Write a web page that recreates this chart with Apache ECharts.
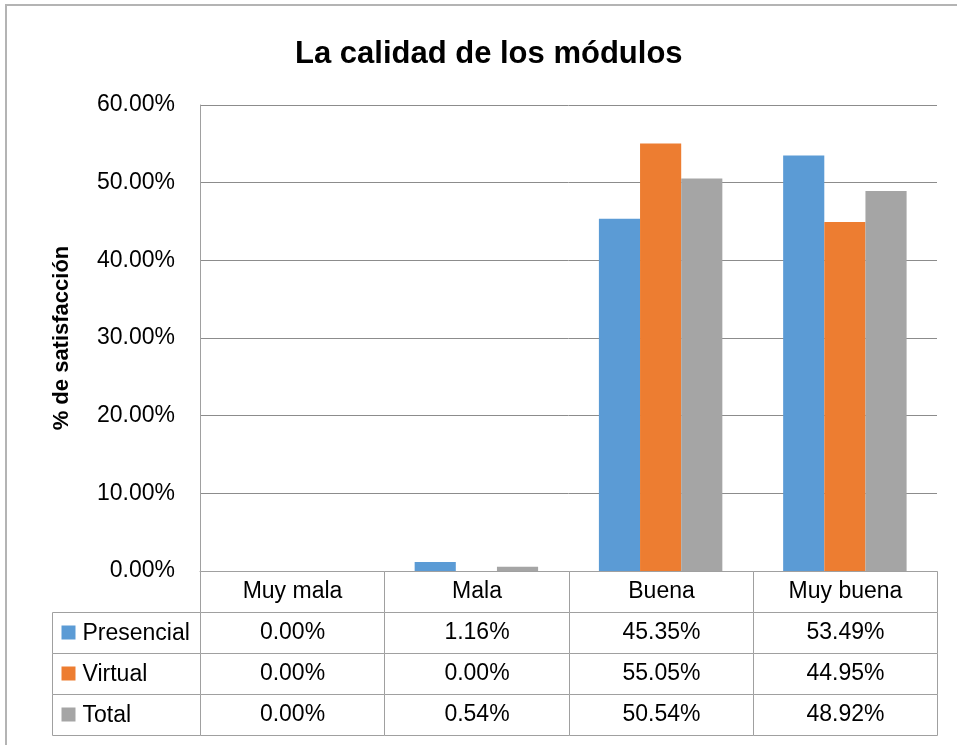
<!DOCTYPE html>
<html>
<head>
<meta charset="utf-8">
<script src="https://cdn.jsdelivr.net/npm/echarts@6/dist/echarts.min.js"></script>
<style>
  html, body { margin: 0; padding: 0; background: #fff; }
  #chart { width: 957px; height: 745px; }
</style>
</head>
<body>
<div id="chart"></div>
<script>
const categories = ['Muy mala', 'Mala', 'Buena', 'Muy buena']
const seriesNames = ['Presencial', 'Virtual', 'Total']
const presencial = [0, 0.0116, 0.4535, 0.5349]
const virtual = [0, 0, 0.5505, 0.4495]
const total = [0, 0.0054, 0.5054, 0.4892]
const colors = ['#5b9bd5', '#ed7d31', '#a5a5a5']

const FONT = '"Liberation Sans", Arial, sans-serif'
const lineColor = '#a0a0a0'
const pct = v => (v * 100).toFixed(2) + '%'

const values = [presencial, virtual, total]

// table cells: row 0 = header, rows 1..3 = series
const tableCells = []
categories.forEach((c, i) => tableCells.push({ value: [i, 0], text: c }))
values.forEach((arr, r) => arr.forEach((v, i) => tableCells.push({ value: [i, r + 1], text: pct(v) })))

const rowHeads = seriesNames.map((n, r) => ({ value: [0, r], text: n, color: colors[r] }))

const crisp = v => Math.round(v) + 0.5

const renderCell = (params, api) => {
  const c = api.coord([api.value(0), api.value(1)])
  const s = api.size([1, 1])
  const x0 = crisp(c[0] - s[0] / 2), y0 = crisp(c[1] - s[1] / 2)
  const x1 = crisp(c[0] + s[0] / 2), y1 = crisp(c[1] + s[1] / 2)
  return {
    type: 'rect',
    shape: { x: x0, y: y0, width: x1 - x0, height: y1 - y0 },
    style: { fill: '#fff', stroke: lineColor, lineWidth: 1 },
    textContent: { style: { text: tableCells[params.dataIndex].text, font: '23px ' + FONT, fill: '#000' } },
    textConfig: { position: 'inside' }
  }
}

const renderHead = (params, api) => {
  const c = api.coord([api.value(0), api.value(1)])
  const s = api.size([1, 1])
  const x0 = crisp(c[0] - s[0] / 2), y0 = crisp(c[1] - s[1] / 2)
  const x1 = crisp(c[0] + s[0] / 2), y1 = crisp(c[1] + s[1] / 2)
  const item = rowHeads[params.dataIndex]
  return {
    type: 'group',
    children: [
      { type: 'rect', shape: { x: x0, y: y0, width: x1 - x0, height: y1 - y0 }, style: { fill: '#fff', stroke: lineColor, lineWidth: 1 } },
      { type: 'rect', shape: { x: x0 + 9, y: c[1] - 7, width: 14, height: 14 }, style: { fill: item.color } },
      { type: 'text', style: { text: item.text, x: x0 + 30, y: c[1] + 1, font: '23px ' + FONT, fill: '#000', verticalAlign: 'middle', align: 'left' } }
    ]
  }
}

const chart = echarts.init(document.getElementById('chart'))

chart.setOption({
  animation: false,
  title: {
    text: 'La calidad de los módulos',
    left: 290,
    top: 34,
    textStyle: { fontFamily: FONT, fontSize: 31, fontWeight: 'bold', color: '#000' }
  },
  graphic: [{
    type: 'rect',
    shape: { x: 6, y: 5, width: 1000, height: 800 },
    style: { fill: 'none', stroke: '#b4b4b4', lineWidth: 2 },
    silent: true
  }],
  grid: [
    { left: 200, top: 105, width: 737, height: 466 },
    { left: 200, top: 571, width: 737, height: 164 },
    { left: 52, top: 612, width: 148, height: 123 }
  ],
  xAxis: [
    {
      gridIndex: 0, type: 'category', data: categories,
      axisLine: { lineStyle: { color: lineColor } },
      axisTick: { show: false }, axisLabel: { show: false }
    },
    { gridIndex: 1, type: 'category', data: categories, show: false },
    { gridIndex: 2, type: 'category', data: ['names'], show: false }
  ],
  yAxis: [
    {
      gridIndex: 0, type: 'value', min: 0, max: 0.6, interval: 0.1,
      name: '% de satisfacción', nameLocation: 'middle', nameGap: 127,
      nameTextStyle: { fontFamily: FONT, fontSize: 22, fontWeight: 'bold', color: '#000' },
      axisLine: { show: true, lineStyle: { color: lineColor } },
      axisTick: { show: false },
      axisLabel: { formatter: pct, fontFamily: FONT, fontSize: 23, color: '#000', margin: 25 },
      splitLine: { lineStyle: { color: '#8c8c8c' } }
    },
    { gridIndex: 1, type: 'category', data: ['h', 'p', 'v', 't'], inverse: true, show: false },
    { gridIndex: 2, type: 'category', data: seriesNames, inverse: true, show: false }
  ],
  series: [
    ...seriesNames.map((n, i) => ({
      name: n, type: 'bar', xAxisIndex: 0, yAxisIndex: 0,
      data: values[i], barGap: 0, barCategoryGap: '33%',
      itemStyle: { color: colors[i] }
    })),
    { type: 'custom', xAxisIndex: 1, yAxisIndex: 1, renderItem: renderCell, data: tableCells.map(d => d.value), silent: true },
    { type: 'custom', xAxisIndex: 2, yAxisIndex: 2, renderItem: renderHead, data: rowHeads.map(d => d.value), silent: true }
  ]
})
</script>
</body>
</html>
